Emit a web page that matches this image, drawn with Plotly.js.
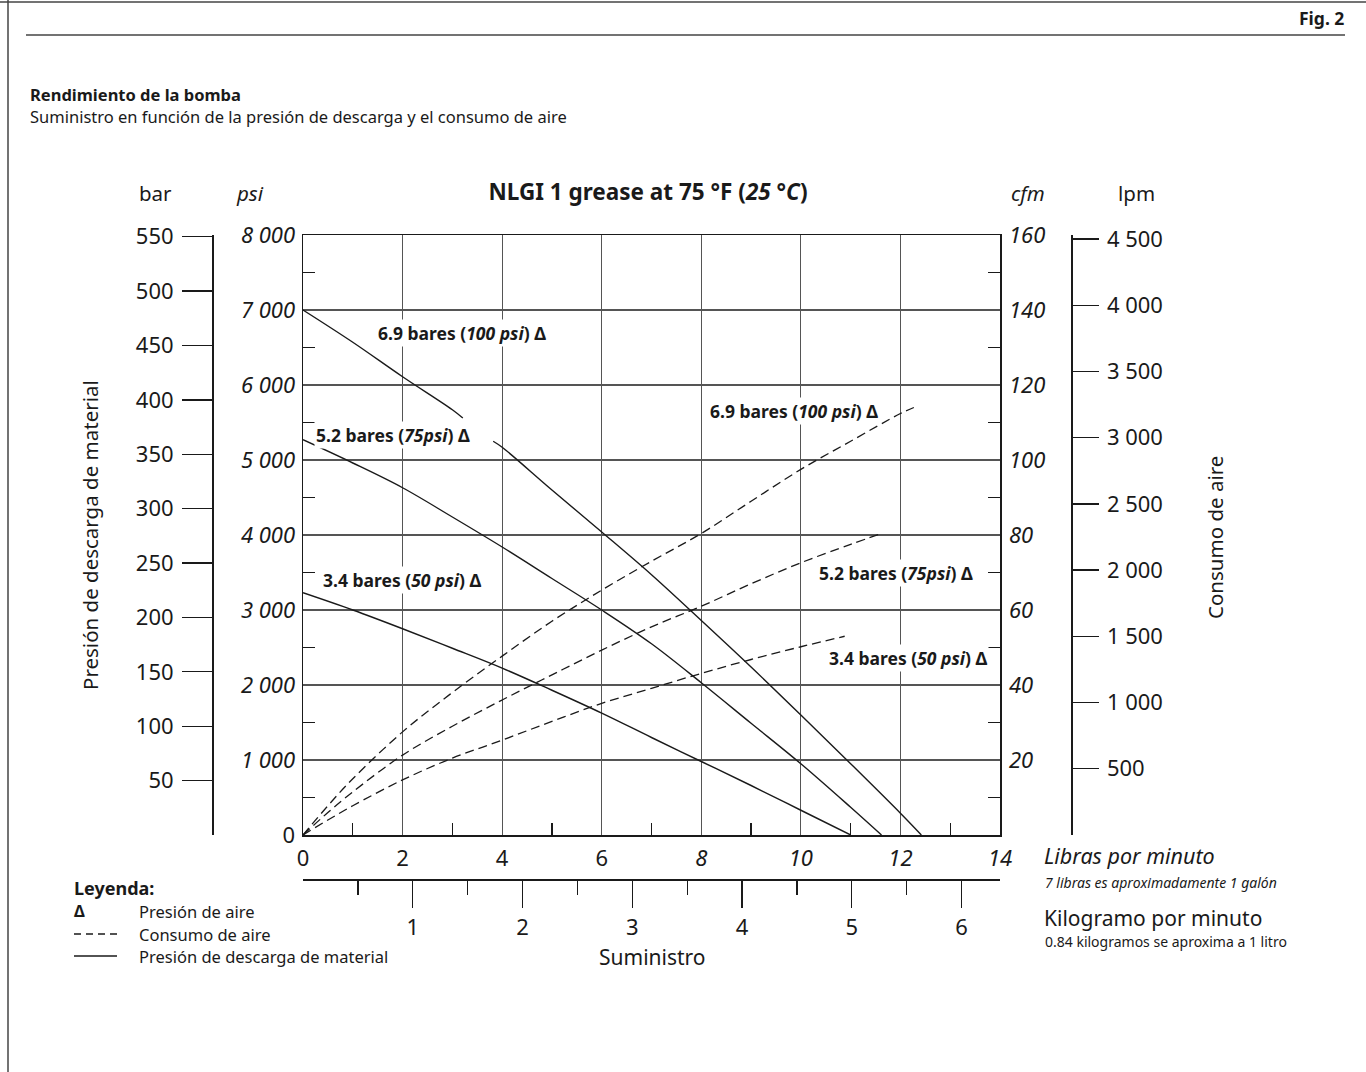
<!DOCTYPE html>
<html>
<head>
<meta charset="utf-8">
<script src="https://cdn.plot.ly/plotly-3.0.1.min.js"></script>
<style>html,body{margin:0;padding:0;background:#fff;}#chart{width:1366px;height:1072px;}</style>
</head>
<body>
<div id="chart"></div>
<script>
// ---- Data (lb/min vs psi / cfm) ----
const solid100X = [0, 1, 2, 3, 3.21, null, 3.82, 4, 5, 6, 7, 8, 9, 10, 11, 12, 12.42];
const solid100Y = [7000, 6570, 6110, 5670, 5560, null, 5250, 5170, 4600, 4040, 3470, 2860, 2240, 1600, 950, 290, 0];
const solid75X = [0, 1, 2, 3, 4, 5, 6, 7, 8, 9, 10, 11, 11.62];
const solid75Y = [5270, 4960, 4630, 4240, 3840, 3420, 3000, 2550, 2030, 1490, 950, 370, 0];
const solid50X = [0, 1, 2, 3, 4, 5, 6, 7, 8, 9, 10, 11];
const solid50Y = [3230, 3000, 2750, 2490, 2225, 1930, 1625, 1300, 980, 660, 330, 0];

const dash100X = [0, 0.5, 1, 2, 3, 4, 5, 6, 7, 8, 9, 10, 11, 12, 12.27];
const dash100Y = [0, 7.8, 15, 27.5, 38, 47.7, 57, 65.3, 73, 80.4, 89, 97.5, 105, 112.4, 114];
const dash75X = [0, 0.5, 1, 2, 3, 4, 5, 6, 7, 8, 9, 10, 11, 11.62];
const dash75Y = [0, 6, 11.5, 21.3, 29, 36, 42.7, 49.3, 55.5, 61, 67, 72.6, 77.5, 80.4];
const dash50X = [0, 0.5, 1, 2, 3, 4, 5, 6, 7, 8, 9, 10, 10.88];
const dash50Y = [0, 4, 7.8, 14.7, 20.5, 25.3, 30.3, 35.1, 39.1, 43.1, 46.8, 50.2, 53];

// ---- Tick labels ----
const lbTickVals = [0, 2, 4, 6, 8, 10, 12, 14];
const lbTickText = ['0', '2', '4', '6', '<i>8</i>', '<i>10</i>', '<i>12</i>', '<i>14</i>'];
const lbMinorVals = [1, 3, 5, 7, 9, 11, 13];
const kgTickVals = [1, 2, 3, 4, 5, 6];
const kgTickText = ['1', '2', '3', '4', '5', '6'];
const kgMinorVals = [0.5, 1.5, 2.5, 3.5, 4.5, 5.5];
const psiTickVals = [0, 1000, 2000, 3000, 4000, 5000, 6000, 7000, 8000];
const psiTickText = ['0', '<i>1 000</i>', '<i>2 000</i>', '<i>3 000</i>', '<i>4 000</i>', '<i>5 000</i>', '<i>6 000</i>', '<i>7 000</i>', '<i>8 000</i>'];
const psiMinorVals = [500, 1500, 2500, 3500, 4500, 5500, 6500, 7500];
const cfmTickVals = [20, 40, 60, 80, 100, 120, 140, 160];
const cfmTickText = ['20', '40', '60', '80', '100', '120', '140', '160'];
const cfmMinorVals = [10, 30, 50, 70, 90, 110, 130, 150];
const barTickVals = [50, 100, 150, 200, 250, 300, 350, 400, 450, 500, 550];
const barTickText = ['50', '100', '150', '200', '250', '300', '350', '400', '450', '500', '550'];
const lpmTickVals = [500, 1000, 1500, 2000, 2500, 3000, 3500, 4000, 4500];
const lpmTickText = ['500', '1 000', '1 500', '2 000', '2 500', '3 000', '3 500', '4 000', '4 500'];

// Unit conversions
const PSI_PER_BAR = 14.5038;
const LPM_PER_CFM = 28.3168;
const KG_PER_LB = 0.453592;
const LB_MAX = 14, PSI_MAX = 8000, CFM_MAX = 160;

// ---- Layout helpers ----
const W = 1366, H = 1072;
const px = v => v / W;
const py = v => 1 - v / H;
const FONT = 'Noto Sans, Open Sans, DejaVu Sans, sans-serif';
const INK = '#1a1a1a';

const solidStyle = {color: INK, width: 1.4};
const dashStyle = {color: INK, width: 1.3, dash: '9px,5px'};

const traces = [
  {x: solid100X, y: solid100Y, mode: 'lines', line: Object.assign({shape: 'spline'}, solidStyle), connectgaps: false, hoverinfo: 'skip'},
  {x: solid75X, y: solid75Y, mode: 'lines', line: Object.assign({shape: 'spline'}, solidStyle), hoverinfo: 'skip'},
  {x: solid50X, y: solid50Y, mode: 'lines', line: Object.assign({shape: 'spline'}, solidStyle), hoverinfo: 'skip'},
  {x: dash100X, y: dash100Y, yaxis: 'y2', mode: 'lines', line: Object.assign({shape: 'spline'}, dashStyle), hoverinfo: 'skip'},
  {x: dash75X, y: dash75Y, yaxis: 'y2', mode: 'lines', line: Object.assign({shape: 'spline'}, dashStyle), hoverinfo: 'skip'},
  {x: dash50X, y: dash50Y, yaxis: 'y2', mode: 'lines', line: Object.assign({shape: 'spline'}, dashStyle), hoverinfo: 'skip'},
  {x: [null], y: [null], yaxis: 'y3', mode: 'lines', hoverinfo: 'skip'},
  {x: [null], y: [null], yaxis: 'y4', mode: 'lines', hoverinfo: 'skip'},
  {x: [null], y: [null], xaxis: 'x2', mode: 'lines', hoverinfo: 'skip'}
];

const tickFont = {family: FONT, size: 22, color: INK};
const plotDomX = [px(303), px(1000)];
const plotDomY = [py(835), py(235)];

const layout = {
  width: W, height: H,
  margin: {l: 0, r: 0, t: 0, b: 0},
  paper_bgcolor: '#fff', plot_bgcolor: '#fff',
  showlegend: false,
  font: {family: FONT, color: INK},
  title: {text: '<b>NLGI 1 grease at 75 °F (<i>25 °C</i>)</b>', x: px(648), y: py(192), xref: 'paper', yref: 'paper', xanchor: 'center', yanchor: 'middle', font: {family: FONT, size: 22.5, color: INK}},
  xaxis: {
    domain: plotDomX, range: [0, LB_MAX], fixedrange: true,
    tickmode: 'array', tickvals: lbTickVals, ticktext: lbTickText, ticks: '',
    showgrid: true, gridcolor: '#555', gridwidth: 1.2,
    showline: true, linecolor: INK, linewidth: 1.5, mirror: true, zeroline: false,
    tickfont: tickFont, ticklabelstandoff: 3,
    minor: {tickmode: 'array', tickvals: lbMinorVals, ticks: 'inside', ticklen: 12, tickwidth: 1.2, tickcolor: INK, showgrid: false}
  },
  xaxis2: {
    overlaying: 'x', anchor: 'free', position: py(879), side: 'bottom',
    range: [0, LB_MAX * KG_PER_LB], fixedrange: true,
    tickmode: 'array', tickvals: kgTickVals, ticktext: kgTickText,
    ticks: 'outside', ticklen: 27, tickwidth: 1.3, tickcolor: INK,
    showgrid: false, zeroline: false, showline: true, linecolor: INK, linewidth: 1.5,
    tickfont: tickFont, ticklabelstandoff: 1,
    minor: {tickmode: 'array', tickvals: kgMinorVals, ticks: 'outside', ticklen: 14, tickwidth: 1.3, tickcolor: INK, showgrid: false}
  },
  yaxis: {
    domain: plotDomY, range: [0, PSI_MAX], fixedrange: true,
    tickmode: 'array', tickvals: psiTickVals, ticktext: psiTickText, ticks: '',
    showgrid: true, gridcolor: '#555', gridwidth: 1.2,
    showline: true, linecolor: INK, linewidth: 1.5, zeroline: false,
    tickfont: tickFont, ticklabelstandoff: 2,
    minor: {tickmode: 'array', tickvals: psiMinorVals, ticks: 'inside', ticklen: 12, tickwidth: 1.2, tickcolor: INK, showgrid: false}
  },
  yaxis2: {
    overlaying: 'y', side: 'right', anchor: 'x', range: [0, CFM_MAX], fixedrange: true,
    tickmode: 'array', tickvals: cfmTickVals, ticktext: cfmTickText, ticks: '',
    showgrid: false, zeroline: false, showline: true, linecolor: INK, linewidth: 1.5,
    tickfont: Object.assign({}, tickFont, {style: 'italic'}), ticklabelstandoff: 3,
    minor: {tickmode: 'array', tickvals: cfmMinorVals, ticks: 'inside', ticklen: 12, tickwidth: 1.2, tickcolor: INK, showgrid: false}
  },
  yaxis3: {
    overlaying: 'y', side: 'left', anchor: 'free', position: px(212),
    range: [0, PSI_MAX / PSI_PER_BAR], fixedrange: true,
    tickmode: 'array', tickvals: barTickVals, ticktext: barTickText,
    ticks: 'outside', ticklen: 30, tickwidth: 1.3, tickcolor: INK,
    showgrid: false, zeroline: false, showline: true, linecolor: INK, linewidth: 1.5,
    tickfont: tickFont, ticklabelstandoff: 4
  },
  yaxis4: {
    overlaying: 'y', side: 'right', anchor: 'free', position: px(1071),
    range: [0, CFM_MAX * LPM_PER_CFM], fixedrange: true,
    tickmode: 'array', tickvals: lpmTickVals, ticktext: lpmTickText,
    ticks: 'outside', ticklen: 26, tickwidth: 1.3, tickcolor: INK,
    showgrid: false, zeroline: false, showline: true, linecolor: INK, linewidth: 1.5,
    tickfont: tickFont, ticklabelstandoff: 4
  },
  shapes: [
    {type: 'line', xref: 'paper', yref: 'paper', x0: 0, x1: 1, y0: py(2), y1: py(2), line: {color: '#444', width: 1.5}},
    {type: 'line', xref: 'paper', yref: 'paper', x0: px(8), x1: px(8), y0: py(0), y1: py(1072), line: {color: '#444', width: 1.5}},
    {type: 'line', xref: 'paper', yref: 'paper', x0: px(26), x1: px(1345), y0: py(35), y1: py(35), line: {color: '#444', width: 1.5}},
    // legend glyphs
    {type: 'line', xref: 'paper', yref: 'paper', x0: px(74), x1: px(117), y0: py(934), y1: py(934), line: {color: INK, width: 1.5, dash: '7px,5px'}},
    {type: 'line', xref: 'paper', yref: 'paper', x0: px(74), x1: px(117), y0: py(956), y1: py(956), line: {color: INK, width: 1.5}}
  ],
  annotations: []
};

function ann(text, x, y, size, opts) {
  layout.annotations.push(Object.assign({
    text: text, xref: 'paper', yref: 'paper', x: px(x), y: py(y),
    xanchor: 'left', yanchor: 'middle', showarrow: false, borderpad: 0,
    font: {family: FONT, size: size, color: INK}
  }, opts || {}));
}

// Header
ann('<b>Fig. 2</b>', 1345, 18, 17.5, {xanchor: 'right'});
ann('<b>Rendimiento de la bomba</b>', 29, 94, 16.5);
ann('Suministro en función de la presión de descarga y el consumo de aire', 29, 116, 16.5);

// Axis unit labels
ann('bar', 155, 193, 20.5, {xanchor: 'center'});
ann('<i>psi</i>', 250, 193, 20.5, {xanchor: 'center'});
ann('<i>cfm</i>', 1028, 193, 20.5, {xanchor: 'center'});
ann('lpm', 1136, 193, 20.5, {xanchor: 'center'});

// Rotated axis titles
ann('Presión de descarga de material', 90, 535, 20.5, {xanchor: 'center', textangle: -90});
ann('Consumo de aire', 1215, 538, 20.5, {xanchor: 'center', textangle: -90});

// Bottom axis descriptions
ann('<i>Libras por minuto</i>', 1043, 855, 21.5);
ann('<i>7 libras es aproximadamente 1 galón</i>', 1044, 882, 14);
ann('Kilogramo por minuto', 1043, 918, 21);
ann('0.84 kilogramos se aproxima a 1 litro', 1044, 941, 14);
ann('Suministro', 652, 957, 21, {xanchor: 'center'});

// Legend
ann('<b>Leyenda:</b>', 73, 888, 18);
ann('<b>Δ</b>', 73, 911, 16);
ann('Presión de aire', 138, 911, 16.5);
ann('Consumo de aire', 138, 934, 16.5);
ann('Presión de descarga de material', 138, 956, 16.5);

// Curve labels (white background)
const LBL = 17.5;
ann('<b>6.9 bares (<i>100 psi</i>) Δ</b>', 462, 333, LBL, {xanchor: 'center', bgcolor: '#fff', borderpad: 1});
ann('<b>5.2 bares (<i>75psi</i>) Δ</b>', 393, 435, LBL, {xanchor: 'center', bgcolor: '#fff', borderpad: 1});
ann('<b>3.4 bares (<i>50 psi</i>) Δ</b>', 402, 580, LBL, {xanchor: 'center', bgcolor: '#fff', borderpad: 1});
ann('<b>6.9 bares (<i>100 psi</i>) Δ</b>', 794, 411, LBL, {xanchor: 'center', bgcolor: '#fff', borderpad: 1});
ann('<b>5.2 bares (<i>75psi</i>) Δ</b>', 896, 573, LBL, {xanchor: 'center', bgcolor: '#fff', borderpad: 1});
ann('<b>3.4 bares (<i>50 psi</i>) Δ</b>', 908, 658, LBL, {xanchor: 'center', bgcolor: '#fff', borderpad: 1});

Plotly.newPlot('chart', traces, layout, {staticPlot: true, displayModeBar: false});
</script>
</body>
</html>
